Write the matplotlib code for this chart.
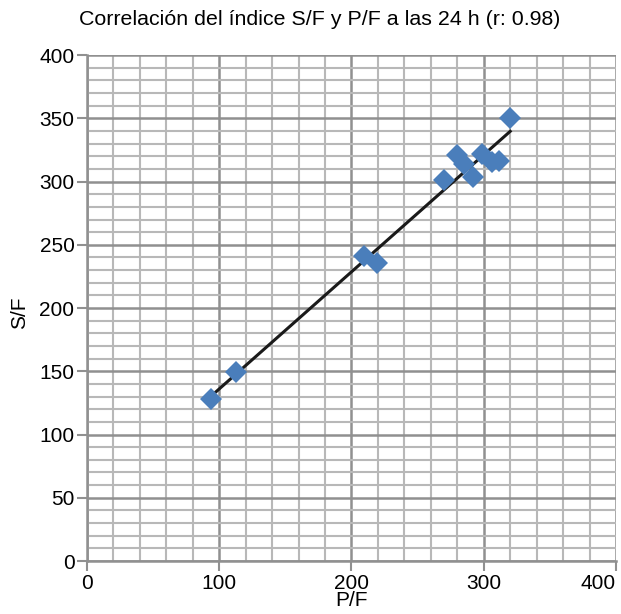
import numpy as np
import matplotlib.pyplot as plt
from matplotlib.ticker import MultipleLocator

plt.rcParams['font.family'] = ['Liberation Sans', 'DejaVu Sans']

# P/F vs S/F at 24 h
pf = [93.7, 112.6, 209.8, 219.5, 270, 279.5, 285, 291.7, 299, 306.6, 311.6, 320]
sf = [128, 149.6, 241, 235.8, 301, 321, 314, 303.8, 321.7, 315.7, 316, 350.4]

x_ticks = [0, 100, 200, 300, 400]
y_ticks = [0, 50, 100, 150, 200, 250, 300, 350, 400]

title = "Correlación del índice S/F y P/F a las 24 h (r: 0.98)"

fig = plt.figure(figsize=(6.21, 6.14), dpi=100)
ax = fig.add_axes([0.140, 0.0863, 0.852, 0.824])

# graph-paper style grid
ax.set_xticks(x_ticks)
ax.set_yticks(y_ticks)
ax.xaxis.set_minor_locator(MultipleLocator(20))
ax.yaxis.set_minor_locator(MultipleLocator(10))
ax.grid(which='minor', color='#b8b8b8', linewidth=1.5)
ax.grid(which='major', color='#909090', linewidth=1.8)
ax.set_axisbelow(True)

# linear fit
coef = np.polyfit(pf, sf, 1)
xs = np.array([min(pf) + 2, max(pf)])
ax.plot(xs, np.polyval(coef, xs), color='#1a1a1a', linewidth=2.2, zorder=3)

ax.plot(pf, sf, linestyle='none', marker='D', markersize=11,
        color='#4a7ebb', markeredgewidth=0, zorder=4)

ax.set_xlim(0, 400)
ax.set_ylim(0, 400)

for s in ['top', 'right']:
    ax.spines[s].set_visible(False)
for s in ['left', 'bottom']:
    ax.spines[s].set_color('#909090')
    ax.spines[s].set_linewidth(1.8)

ax.tick_params(which='major', direction='out', length=7.5, width=1.5,
               color='#909090', labelsize=15, pad=1.5)
ax.tick_params(which='minor', length=0)

# last x label sits left of its tick, as in the original
for lab in ax.get_xticklabels():
    if lab.get_text() == '400':
        lab.set_ha('right')

ax.set_xlabel("P/F", fontsize=15)
ax.xaxis.set_label_coords(0.5, -0.079)
ax.xaxis.label.set_va('center')
ax.set_ylabel("S/F", fontsize=15)
ax.yaxis.set_label_coords(-0.127, 0.49)
ax.yaxis.label.set_va('center')

fig.text(0.515, 0.969, title, ha='center', va='center', fontsize=15.4)

fig.savefig("out.png", dpi=100)
